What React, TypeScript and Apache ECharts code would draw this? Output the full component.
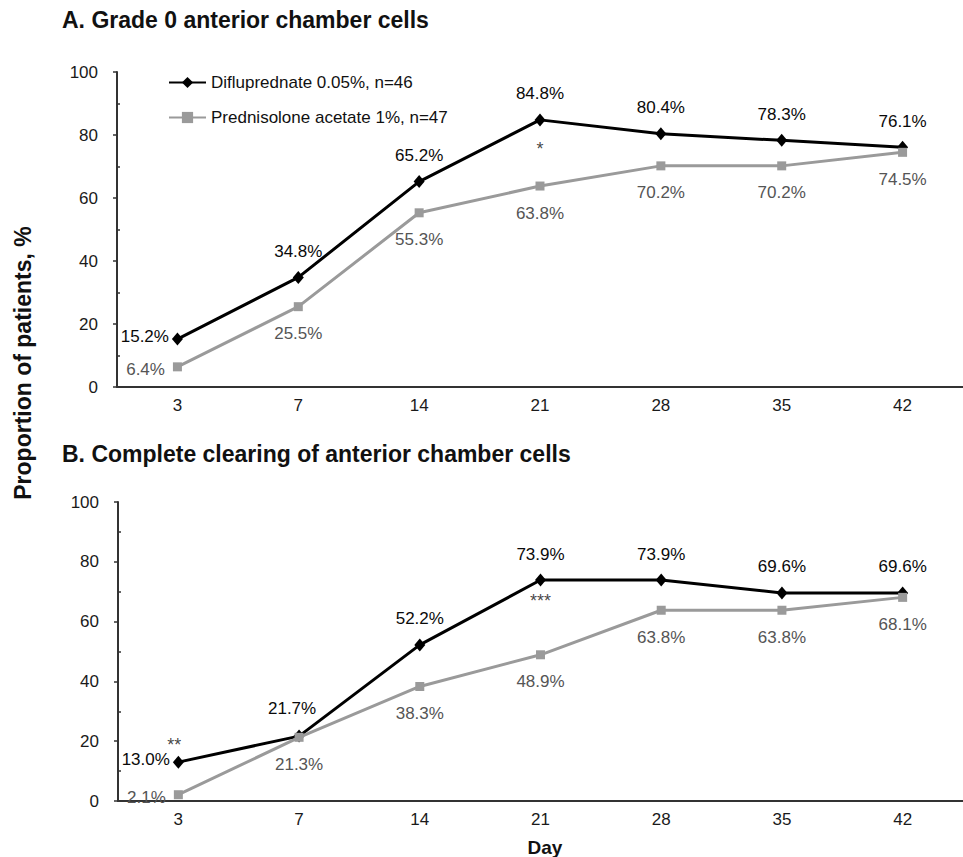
import { useEffect, useRef } from "react";
import * as echarts from "echarts";

const days = ["3", "7", "14", "21", "28", "35", "42"];
const seriesNames = ["Difluprednate 0.05%, n=46", "Prednisolone acetate 1%, n=47"];
const gradeZeroDiflu = [15.2, 34.8, 65.2, 84.8, 80.4, 78.3, 76.1];
const gradeZeroPred = [6.4, 25.5, 55.3, 63.8, 70.2, 70.2, 74.5];
const clearingDiflu = [13.0, 21.7, 52.2, 73.9, 73.9, 69.6, 69.6];
const clearingPred = [2.1, 21.3, 38.3, 48.9, 63.8, 63.8, 68.1];
const panelTitles = [
  "A. Grade 0 anterior chamber cells",
  "B. Complete clearing of anterior chamber cells",
];
const yAxisTitle = "Proportion of patients, %";
const xAxisTitle = "Day";
const sigMarksA = [{ day: "21", mark: "*", side: "below" }];
const sigMarksB = [
  { day: "3", mark: "**", side: "above" },
  { day: "21", mark: "***", side: "below" },
];

const FONT = '"Liberation Sans", Arial, Helvetica, sans-serif';
const BLACK = "#000000";
const GRAY = "#9a9a9a";
const GRAY_TEXT = "#555555";

function pct(v: number) {
  return v.toFixed(1) + "%";
}

function diluSeries(data: number[], g: number, extra: Record<number, any> = {}) {
  return {
    name: seriesNames[0],
    type: "line",
    xAxisIndex: g,
    yAxisIndex: g * 2,
    data: data.map((v, i) => ({
      value: v,
      label:
        i === 0
          ? { position: "left", distance: 3, offset: [0, -3] }
          : extra[i] || {},
    })),
    symbol: "diamond",
    symbolSize: [11, 13],
    lineStyle: { color: BLACK, width: 3 },
    itemStyle: { color: BLACK },
    label: {
      show: true,
      position: "top",
      distance: 11,
      color: "#0a0a0a",
      fontSize: 17,
      fontFamily: FONT,
      formatter: (p: any) => pct(p.value),
    },
    z: 3,
  };
}

function predSeries(data: number[], g: number) {
  return {
    name: seriesNames[1],
    type: "line",
    xAxisIndex: g,
    yAxisIndex: g * 2,
    data: data.map((v, i) => ({
      value: v,
      label: i === 0 ? { position: "left", distance: 8, offset: [0, 3] } : {},
    })),
    symbol: "rect",
    symbolSize: 9,
    lineStyle: { color: GRAY, width: 3 },
    itemStyle: { color: GRAY },
    label: {
      show: true,
      position: "bottom",
      distance: 14,
      color: GRAY_TEXT,
      fontSize: 17,
      fontFamily: FONT,
      formatter: (p: any) => pct(p.value),
    },
    z: 4,
  };
}

function sigSeries(marks: { day: string; mark: string; side: string }[], values: number[], g: number) {
  return {
    type: "scatter",
    xAxisIndex: g,
    yAxisIndex: g * 2,
    silent: true,
    symbolSize: 1,
    itemStyle: { color: "rgba(0,0,0,0)" },
    data: marks.map((m) => ({
      value: [m.day, values[days.indexOf(m.day)]],
      label: {
        show: true,
        formatter: m.mark,
        position: m.side === "below" ? "bottom" : "top",
        distance: m.side === "below" ? (m.mark.length > 1 ? 11 : 20) : 8,
        offset: m.side === "below" ? [0, 0] : [-4, 0],
        color: "#111",
        fontSize: 18,
        fontFamily: FONT,
      },
    })),
    z: 5,
  };
}

function xAxis(g: number) {
  return {
    type: "category",
    gridIndex: g,
    data: days,
    boundaryGap: true,
    axisLine: { lineStyle: { color: "#333", width: 2 } },
    axisTick: { alignWithLabel: true, length: 5, lineStyle: { color: "#333", width: 1.5 } },
    axisLabel: { color: "#1a1a1a", fontSize: 17, fontFamily: FONT, margin: 10 },
    splitLine: { show: false },
  };
}

function yAxes(g: number) {
  const base = {
    type: "value",
    gridIndex: g,
    min: 0,
    max: 100,
    interval: 20,
    splitLine: { show: false },
  };
  return [
    {
      ...base,
      axisLine: { show: true, lineStyle: { color: "#333", width: 2 } },
      axisTick: { show: true, length: 4, lineStyle: { color: "#333", width: 1.5 } },
      axisLabel: { color: "#1a1a1a", fontSize: 17, fontFamily: FONT, margin: 19 },
    },
    {
      ...base,
      position: "left",
      axisLine: { show: false },
      axisTick: { show: false, inside: true },
      axisLabel: { show: false },
      minorTick: { show: true, splitNumber: 2, length: 3, lineStyle: { color: "#333", width: 1.5 } },
    },
  ];
}

export default function App() {
  const ref = useRef<HTMLDivElement>(null);
  useEffect(() => {
    if (!ref.current) return;
    const chart = echarts.init(ref.current, null, { renderer: "svg" });
    const option: any = {
      animation: false,
      backgroundColor: "#ffffff",
      textStyle: { fontFamily: FONT },
      grid: [
        { left: 117, top: 72, width: 849, height: 315, containLabel: false },
        { left: 118, top: 502, width: 851, height: 299, containLabel: false },
      ],
      xAxis: [xAxis(0), xAxis(1)],
      yAxis: [...yAxes(0), ...yAxes(1)],
      legend: {
        data: seriesNames,
        orient: "vertical",
        left: 163,
        top: 69,
        itemWidth: 37,
        itemHeight: 14,
        itemGap: 18,
        textStyle: { fontSize: 17, color: "#111", fontFamily: FONT },
        selectedMode: false,
      },
      series: [
        diluSeries(gradeZeroDiflu, 0),
        predSeries(gradeZeroPred, 0),
        sigSeries(sigMarksA, gradeZeroDiflu, 0),
        diluSeries(clearingDiflu, 1, { 1: { offset: [-7, -2] } }),
        predSeries(clearingPred, 1),
        sigSeries(sigMarksB, clearingDiflu, 1),
      ],
      graphic: [
        {
          type: "text",
          left: 62,
          top: 8,
          style: { text: panelTitles[0], font: `bold 23px ${FONT}`, fill: "#111" },
        },
        {
          type: "text",
          left: 62,
          top: 442,
          style: { text: panelTitles[1], font: `bold 23px ${FONT}`, fill: "#111" },
        },
        {
          type: "text",
          x: 23,
          y: 363,
          rotation: Math.PI / 2,
          style: {
            text: yAxisTitle,
            font: `bold 23px ${FONT}`,
            fill: "#111",
            textAlign: "center",
            textVerticalAlign: "middle",
          },
        },
        {
          type: "text",
          x: 545,
          y: 847,
          style: {
            text: xAxisTitle,
            font: `bold 19px ${FONT}`,
            fill: "#111",
            textAlign: "center",
            textVerticalAlign: "middle",
          },
        },
      ],
    };
    chart.setOption(option);
    return () => chart.dispose();
  }, []);
  return (
    <div
      ref={ref}
      style={{ position: "absolute", left: 0, top: 0, width: 963, height: 857, background: "#fff" }}
    />
  );
}
